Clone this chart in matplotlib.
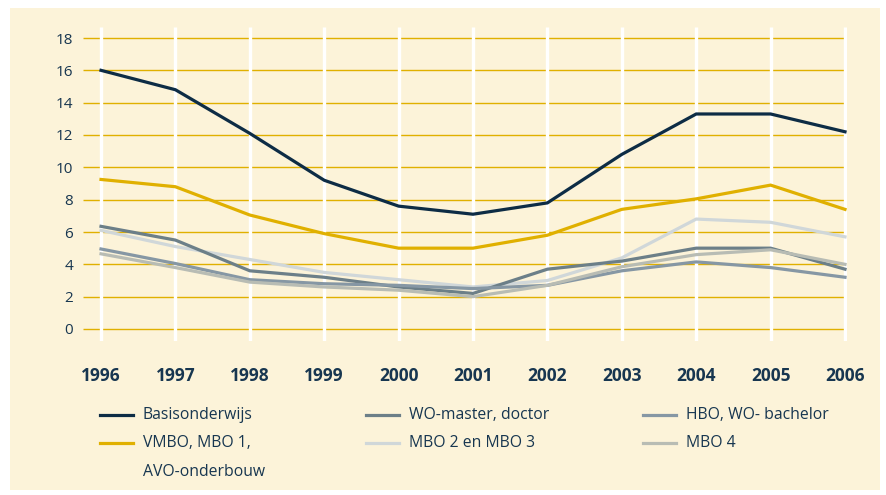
import matplotlib
matplotlib.use("Agg")
import matplotlib.pyplot as plt
from matplotlib.lines import Line2D
from matplotlib.patches import Rectangle

years = [1996, 1997, 1998, 1999, 2000, 2001, 2002, 2003, 2004, 2005, 2006]
basis = [16.0, 14.8, 12.1, 9.2, 7.6, 7.1, 7.8, 10.8, 13.3, 13.3, 12.2]
vmbo = [9.25, 8.8, 7.05, 5.9, 5.0, 5.0, 5.8, 7.4, 8.05, 8.9, 7.4]
wo_master = [6.35, 5.5, 3.6, 3.2, 2.6, 2.2, 3.7, 4.2, 5.0, 5.0, 3.7]
hbo = [4.95, 4.05, 3.05, 2.8, 2.7, 2.5, 2.7, 3.6, 4.15, 3.8, 3.2]
mbo23 = [6.1, 5.1, 4.3, 3.5, 3.05, 2.6, 3.0, 4.4, 6.8, 6.6, 5.7]
mbo4 = [4.65, 3.8, 2.9, 2.6, 2.4, 2.0, 2.7, 3.85, 4.6, 4.9, 4.0]
yticks = [0, 2, 4, 6, 8, 10, 12, 14, 16, 18]

labels = ["Basisonderwijs", "WO-master, doctor", "HBO, WO- bachelor",
          "VMBO, MBO 1,\nAVO-onderbouw", "MBO 2 en MBO 3", "MBO 4"]

c_basis = "#0d2c45"
c_vmbo = "#e0b000"
c_wo = "#6c7f88"
c_hbo = "#8697a4"
c_mbo23 = "#d0d7d9"
c_mbo4 = "#b8bcb4"
bg = "#fcf3d9"
txt = "#173650"

W, H = 886, 495
fig = plt.figure(figsize=(W / 100, H / 100), dpi=100)
fig.patch.set_facecolor("white")
fig.add_artist(Rectangle((10 / W, 1 - 490 / H), 870 / W, 482 / H,
                         transform=fig.transFigure, facecolor=bg,
                         edgecolor="none", zorder=-10))

plt.rcParams['font.family'] = ['Open Sans', 'DejaVu Sans']

# axes: x pixels 83..847, y pixels 27..341
x0, x1 = 83, 847
y0, y1 = 27, 341
ax = fig.add_axes([x0 / W, 1 - y1 / H, (x1 - x0) / W, (y1 - y0) / H])
ax.set_facecolor("none")
px_per_year = (845 - 101) / 10
xl = 1996 - (101 - x0) / px_per_year
xr = 2006 + (x1 - 845) / px_per_year
ax.set_xlim(xl, xr)
px_per_unit = (329 - 38) / 18
ax.set_ylim(-(y1 - 329) / px_per_unit, 18 + (38 - y0) / px_per_unit)

for s in ax.spines.values():
    s.set_visible(False)

ax.hlines(yticks, xl, 2006 - 1 / px_per_year, colors=c_vmbo, linewidth=1.0, zorder=1)
ax.vlines(years, ax.get_ylim()[0], ax.get_ylim()[1], colors="white", linewidth=2.4, zorder=2)

series = [(basis, c_basis), (vmbo, c_vmbo), (mbo23, c_mbo23), (wo_master, c_wo),
          (hbo, c_hbo), (mbo4, c_mbo4)]
for vals, col in series:
    ax.plot(years, vals, color=col, linewidth=2.3, solid_joinstyle="miter", zorder=3,
            clip_on=True)

ax.set_yticks(yticks)
ax.set_yticklabels([str(v) for v in yticks], fontsize=11, color=txt)
ax.set_xticks(years)
ax.set_xticklabels([str(v) for v in years], fontsize=12.5, color=txt, fontweight="bold")
ax.tick_params(axis="y", length=0, pad=7)
ax.tick_params(axis="x", length=0, pad=19)

# legend (manual layout)
leg_cols = [c_basis, c_wo, c_hbo, c_vmbo, c_mbo23, c_mbo4]
hx = [100, 366, 643]
rows = [415, 443]
for i, (lab, col) in enumerate(zip(labels, leg_cols)):
    r, c = divmod(i, 3)
    yy = 1 - rows[r] / H
    fig.add_artist(Line2D([hx[c] / W, (hx[c] + 33) / W], [yy, yy], color=col,
                          linewidth=2.3, transform=fig.transFigure))
    fig.text((hx[c] + 43) / W, yy + 8 / H, lab, fontsize=11.3, color=txt,
             va="top", ha="left", linespacing=2.05)

fig.savefig("out.png", dpi=100, facecolor=fig.get_facecolor())
